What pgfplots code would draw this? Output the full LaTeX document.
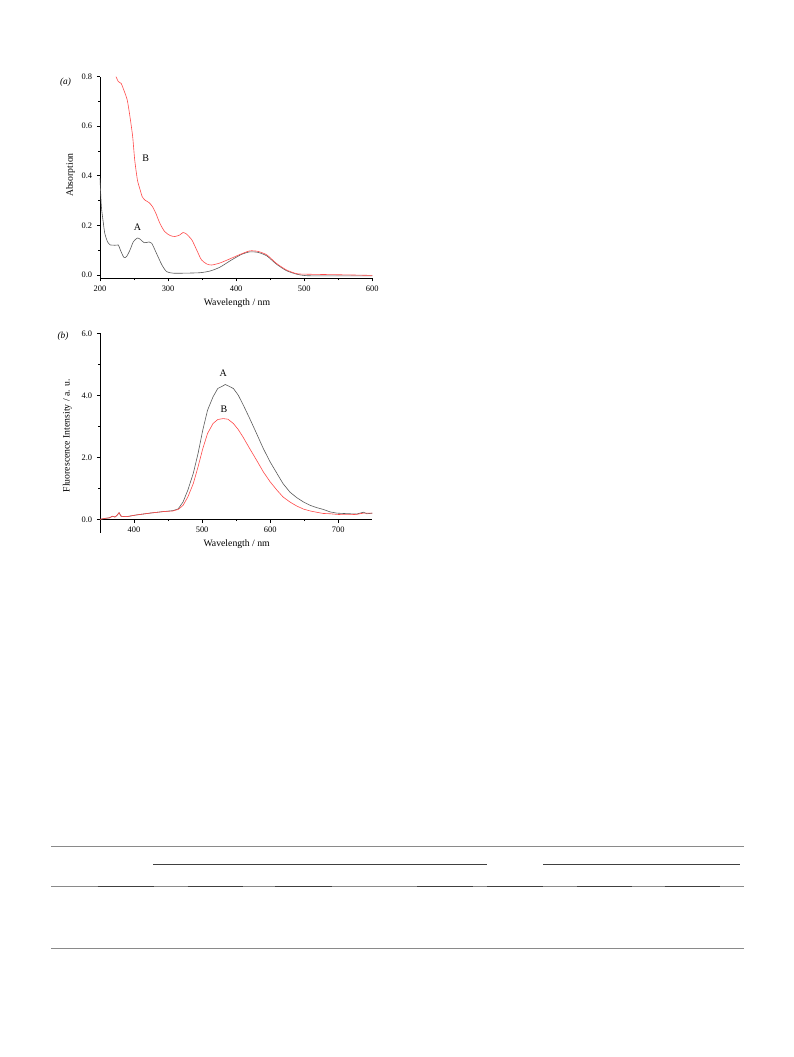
\documentclass[border=0pt]{standalone}
\usepackage{pgfplots}
\pgfplotsset{compat=1.18}
\usepackage{fontspec}
\setmainfont{Liberation Serif}
\definecolor{curveA}{HTML}{5A5A5A}
\definecolor{curveB}{HTML}{FF4A4A}
\definecolor{rulegray}{HTML}{8A8A8A}
\pgfplotsset{
  common/.style={
    scale only axis,
    anchor=south west,
    axis x line*=bottom,
    axis y line*=left,
    axis line style={line width=0.65pt,-},
    tick align=outside,
    major tick length=2.4pt,
    minor tick length=1.4pt,
    every tick/.style={line width=0.5pt,black},
    tick label style={font=\fontsize{6.3}{7}\selectfont},
    label style={font=\fontsize{7.3}{8}\selectfont},
    /pgf/number format/assume math mode=true,
    clip=false,
    minor x tick num=1,
    minor y tick num=1,
    every axis plot/.style={line width=0.45pt},
  }
}
\begin{document}
\begin{tikzpicture}
\useasboundingbox (0,0) rectangle (594.75pt,-792.75pt);
% ---------- panel (a)
\begin{axis}[common,
  at={(75pt,-208.7pt)},
  width=204.2pt, height=151.2pt,
  xmin=200, xmax=600, ymin=-0.0135, ymax=0.8,
  xtick={200,300,400,500,600},
  ytick={0,0.2,0.4,0.6,0.8},
  yticklabel style={/pgf/number format/.cd,fixed,fixed zerofill,precision=1},
  xlabel={Wavelength / nm},
  ylabel={Absorption},
  xlabel style={at={(axis description cs:0.503,-0.124)},anchor=center},
  ylabel style={at={(axis description cs:-0.108,0.512)},anchor=center},
]
\addplot[curveA,smooth,tension=0.4] coordinates {
(200,0.39)(202,0.276)(205,0.208)(207,0.168)(211,0.134)(215,0.121)(219,0.12)(224,0.12)(227,0.121)(230,0.10)(235,0.071)(239,0.074)(244,0.10)(249,0.134)(255,0.149)(259,0.144)(265,0.13)(272,0.133)(276,0.128)(283,0.087)(291,0.040)(298,0.013)(308,0.007)(322,0.007)(347,0.009)(362,0.016)(376,0.031)(393,0.06)(408,0.083)(420,0.093)(432,0.091)(445,0.077)(459,0.044)(474,0.017)(489,0.003)(503,-0.003)(533,-0.004)(600,-0.004)
};
\addplot[curveB,smooth,tension=0.4] coordinates {
(223.5,0.80)(227,0.78)(231,0.773)(235,0.746)(240,0.706)(244,0.639)(248,0.558)(251,0.464)(255,0.383)(259,0.343)(262,0.316)(266,0.302)(272,0.292)(277,0.276)(282,0.249)(288,0.208)(295,0.175)(303,0.159)(310,0.155)(317,0.161)(322,0.171)(327,0.165)(335,0.141)(342,0.101)(349,0.061)(357,0.044)(364,0.040)(376,0.048)(391,0.065)(406,0.083)(420,0.097)(432,0.095)(445,0.081)(459,0.047)(474,0.020)(489,0.005)(503,0.003)(533,0.0015)(567,0)(600,-0.002)
};
\node[font=\fontsize{7.5}{8}\selectfont] at (axis cs:267,0.469) {B};
\node[font=\fontsize{7.5}{8}\selectfont] at (axis cs:255,0.192) {A};
\end{axis}
\node[font=\fontsize{7}{8}\selectfont\itshape] at (49.1pt,-62pt) {(a)};
% ---------- panel (b)
\begin{axis}[common,
  at={(75pt,-389.5pt)},
  width=204.2pt, height=139.5pt,
  xmin=350, xmax=750, ymin=0, ymax=6,
  xtick={400,500,600,700},
  ytick={0,2,4,6},
  yticklabel style={/pgf/number format/.cd,fixed,fixed zerofill,precision=1},
  xlabel={Wavelength / nm},
  ylabel={Fluorescence Intensity / a. u.},
  xlabel style={at={(axis description cs:0.502,-0.133)},anchor=center},
  ylabel style={at={(axis description cs:-0.120,0.449)},anchor=center},
]
\draw[line width=0.65pt] (axis cs:350,0) -- ++(0pt,-10.5pt);
\addplot[curveA] coordinates {
(350,0)(357,0.03)(364,0.05)(368,0.1)(372,0.075)(375,0.13)(378,0.215)(381,0.10)(389,0.086)(403,0.14)(423,0.2)(443,0.25)(457,0.28)(465,0.34)(472,0.56)(479,0.94)(487,1.48)(494,2.12)(501,2.88)(508,3.52)(516,3.95)(523,4.22)(531,4.31)(534,4.35)(538,4.31)(546,4.22)(553,4.01)(560,3.71)(570,3.25)(580,2.77)(590,2.28)(600,1.85)(610,1.48)(619,1.15)(629,0.88)(639,0.70)(649,0.56)(659,0.45)(668,0.38)(678,0.32)(688,0.24)(698,0.20)(707,0.19)(717,0.18)(727,0.17)(737,0.23)(742,0.18)(750,0.20)
};
\addplot[curveB] coordinates {
(350,0)(357,0.03)(364,0.05)(368,0.1)(372,0.075)(375,0.13)(378,0.215)(381,0.10)(389,0.086)(403,0.14)(423,0.2)(443,0.25)(457,0.27)(465,0.32)(472,0.45)(479,0.72)(487,1.15)(494,1.69)(501,2.28)(508,2.77)(516,3.09)(523,3.22)(531,3.25)(538,3.23)(546,3.09)(553,2.90)(560,2.66)(570,2.28)(580,1.91)(590,1.53)(600,1.21)(610,0.94)(619,0.72)(629,0.56)(639,0.43)(649,0.33)(659,0.27)(668,0.23)(678,0.19)(688,0.18)(698,0.16)(707,0.15)(717,0.15)(727,0.16)(737,0.20)(750,0.20)
};
\node[font=\fontsize{7.5}{8}\selectfont] at (axis cs:531,4.71) {A};
\node[font=\fontsize{7.5}{8}\selectfont] at (axis cs:532,3.54) {B};
\end{axis}
\node[font=\fontsize{7}{8}\selectfont\itshape] at (47.3pt,-252.5pt) {(b)};
% ---------- table rules
\draw[rulegray,line width=0.9pt] (38.25pt,-635pt) -- (558pt,-635pt);
\draw[black!75,line width=0.7pt] (115.1pt,-648.2pt) -- (365.1pt,-648.2pt);
\draw[black!75,line width=0.7pt] (407.3pt,-648.2pt) -- (554.8pt,-648.2pt);
\draw[rulegray,line width=0.8pt] (38.25pt,-664.7pt) -- (558pt,-664.7pt);
\foreach \a/\b in {97.7/153.5,187.7/243,275/331.7,417/472.5,486.8/543,576.8/632,664.5/719.8}{
  \draw[black!75,line width=0.8pt] (\a*0.75pt,-664.7pt) -- (\b*0.75pt,-664.7pt);
}
\draw[rulegray,line width=0.9pt] (38.25pt,-711.5pt) -- (558pt,-711.5pt);
\end{tikzpicture}
\end{document}
